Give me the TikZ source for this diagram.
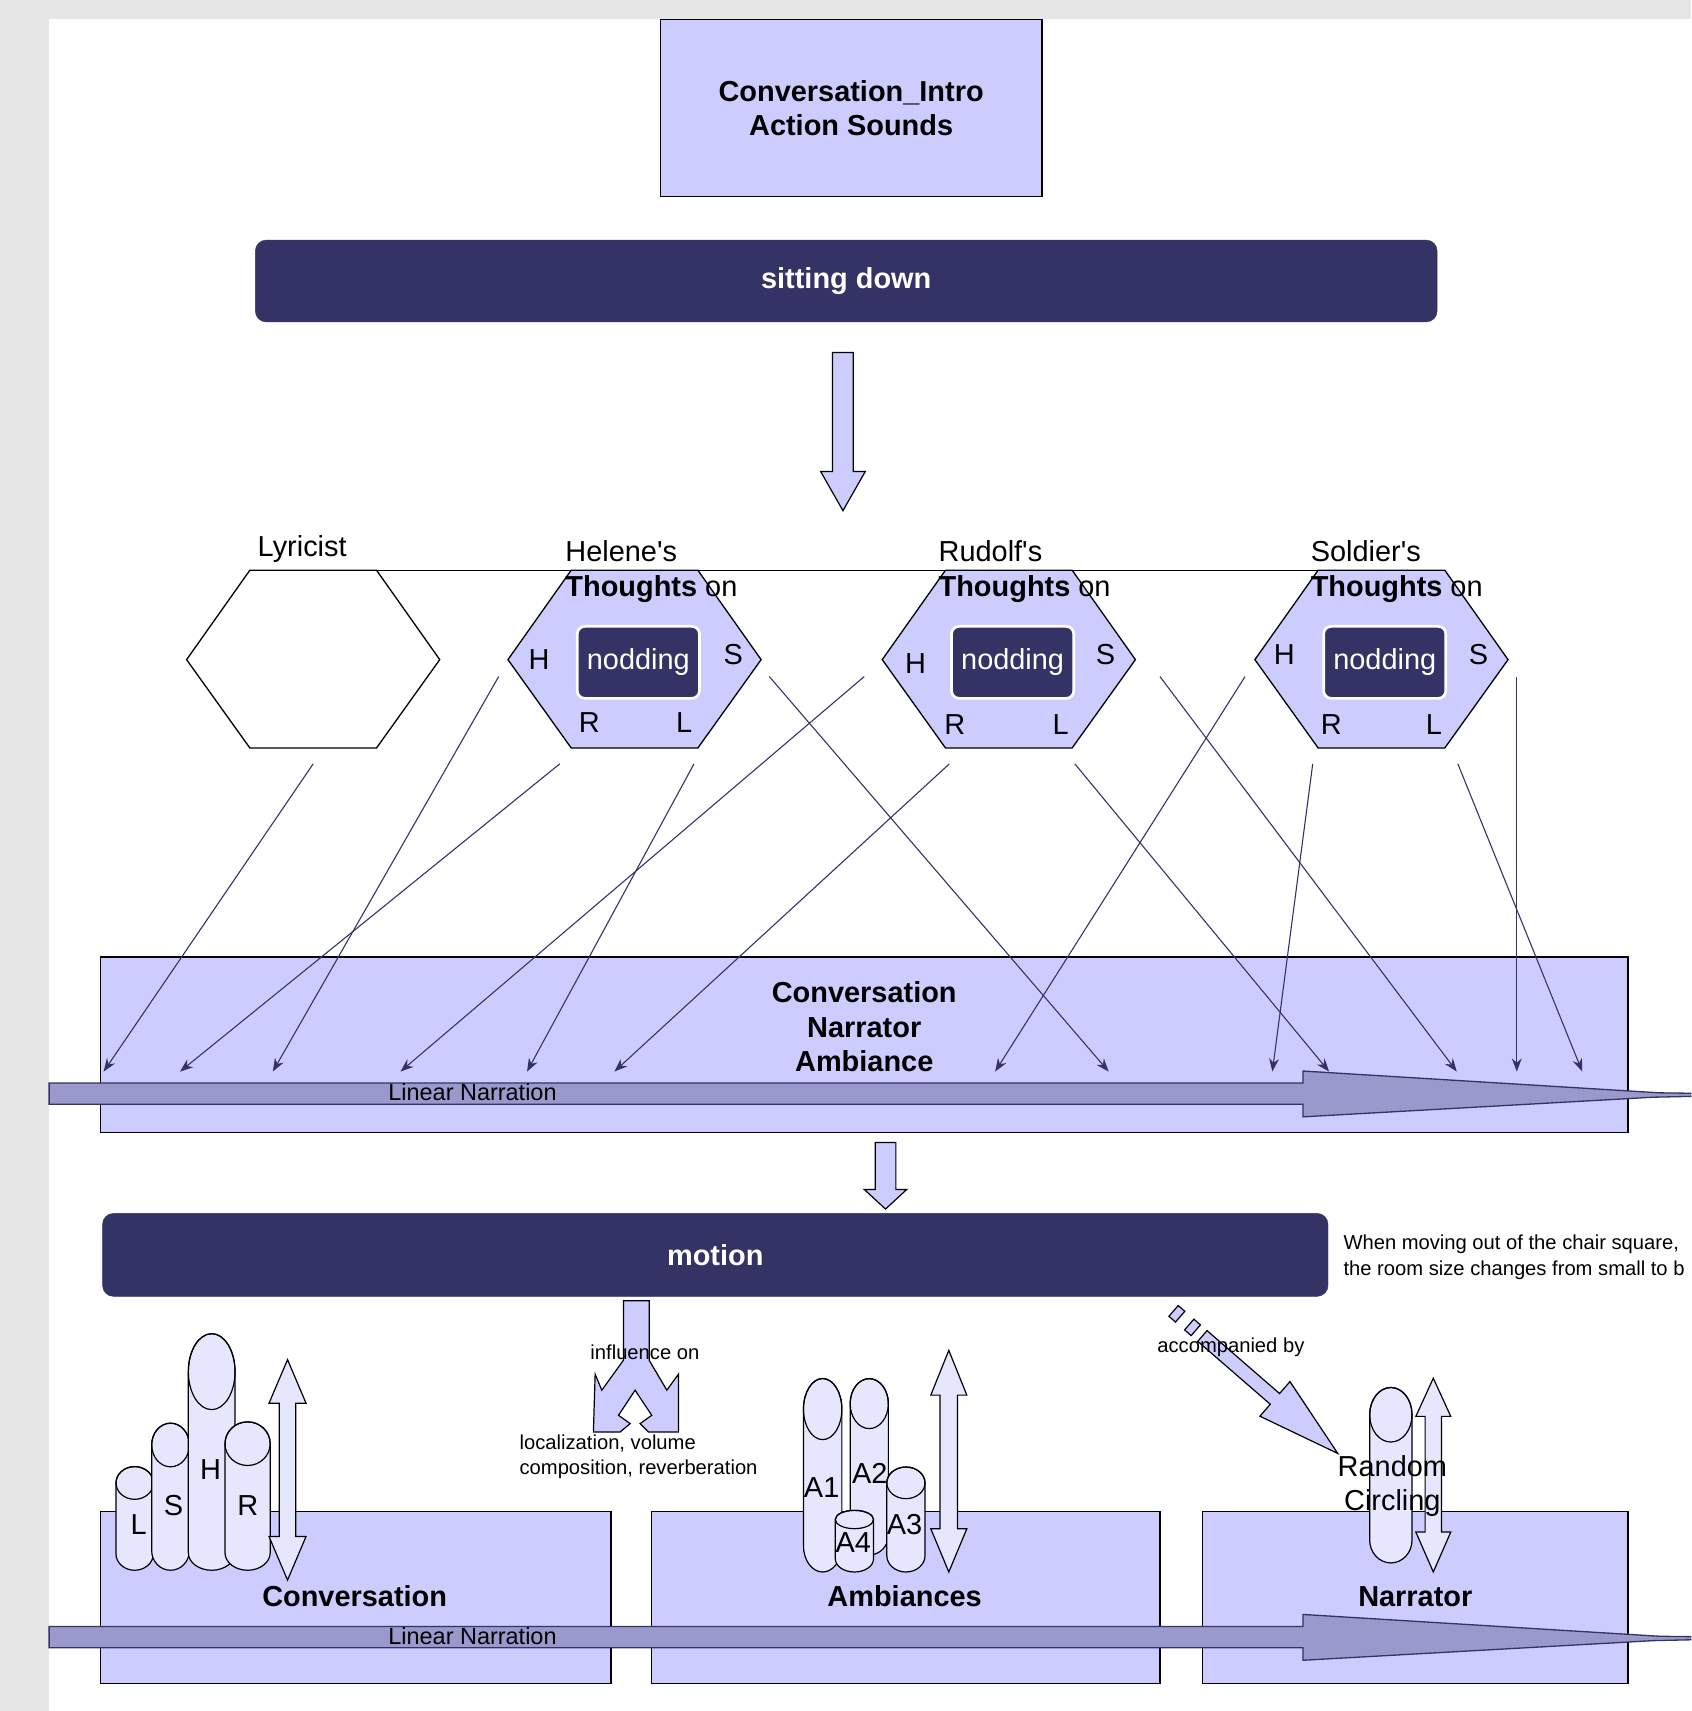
\documentclass[tikz,border=0pt]{standalone}
\usepackage{fontspec}
\setmainfont{Liberation Sans}[Ligatures=TeXOff]
\usetikzlibrary{arrows.meta}
\definecolor{lav}{HTML}{CCCCFF}
\definecolor{navy}{HTML}{333366}
\definecolor{barf}{HTML}{9999CC}
\definecolor{cylf}{HTML}{E6E6FF}
\definecolor{bggray}{HTML}{E6E6E6}
\newcommand\fbig{\fontsize{26.5}{31.5}\selectfont}
\newcommand\fbigb{\fontsize{26.5}{31.5}\selectfont\bfseries}
\newcommand\fsmall{\fontsize{18.5}{24}\selectfont}
\newcommand\fnarr{\fontsize{21.5}{26}\selectfont}
% cylinder: cx, rx, y top centre, ry top, y bottom extreme, ry bottom
\newcommand\mycyl[6]{%
  \filldraw[cylst] ({#1-#2},#3) -- ({#1-#2},{#5-#6})
    arc[start angle=180,end angle=360,x radius=#2pt,y radius=#6pt]
    -- ({#1+#2},#3)
    arc[start angle=0,end angle=180,x radius=#2pt,y radius=#4pt] -- cycle;
  \draw[cylst,fill=none] (#1,#3) ellipse[x radius=#2pt,y radius=#4pt];}
% double block arrow: cx, shaft half, head half, top tip, top base, bottom base, bottom tip
\newcommand\mydbl[7]{%
  \filldraw[cylst] (#1,#4) -- ({#1+#3},#5) -- ({#1+#2},#5) -- ({#1+#2},#6) -- ({#1+#3},#6)
    -- (#1,#7) -- ({#1-#3},#6) -- ({#1-#2},#6) -- ({#1-#2},#5) -- ({#1-#3},#5) -- cycle;}
% hexagon: style, cx, cy
\newcommand\myhex[3]{%
  \draw[#1] ({#2-116},#3) -- ({#2-58},{#3-82}) -- ({#2+58},{#3-82}) -- ({#2+116},#3)
    -- ({#2+58},{#3+81}) -- ({#2-58},{#3+81}) -- cycle;}
\begin{document}
\begin{tikzpicture}[x=1pt,y=-1pt,
  lbox/.style={draw=black,fill=lav,line width=1.2pt,inner sep=0pt,align=center,font=\fbigb},
  dbar/.style={fill=navy,draw=navy,rounded corners=10pt,inner sep=0pt,text=white,font=\fbigb},
  nod/.style={fill=navy,draw=white,line width=2.5pt,rounded corners=7pt,minimum width=112pt,minimum height=66pt,inner sep=0pt,text=white,font=\fbig},
  hexw/.style={draw=black,fill=white,line width=1.2pt},
  hexl/.style={draw=black,fill=lav,line width=1.2pt},
  blk/.style={draw=black,fill=lav,line width=1.1pt,line join=miter},
  cylst/.style={draw=black,fill=cylf,line width=1.1pt},
  thinarr/.style={draw=navy,line width=1pt,-{Stealth[length=12pt,width=9pt]}},
  narr/.style={draw=navy,fill=barf,line width=1.2pt},
  lab/.style={inner sep=0pt,font=\fbig},
  sml/.style={inner sep=0pt,font=\fsmall},
]
\useasboundingbox (0,0) rectangle (1550,1568);
\clip (0,0) rectangle (1550,1568);
\fill[bggray] (0,0) rectangle (1550,1568);
\fill[white] (45,17) rectangle (1560,1580);

% top box and sitting down bar
\node[lbox,minimum width=350pt,minimum height=162pt] (intro) at (780,99) {Conversation\_Intro\\Action Sounds};
\node[dbar,minimum width=1083pt,minimum height=75pt] (sit) at (775.5,257.5) {sitting down};

% block arrow down
\filldraw[blk] (763,323) -- (782,323) -- (782,432) -- (793,432) -- (772.5,468) -- (752,432) -- (763,432) -- cycle;

% hexagons
\myhex{hexw}{287}{604.5}
\myhex{hexl}{581.5}{604.5}
\myhex{hexl}{924.5}{604.5}
\myhex{hexl}{1266}{604.5}
\draw[black,line width=1.2pt] (229,522.5) -- (1324,522.5);

% labels above hexagons
\node[lab,anchor=base west] (lyr) at (236,510) {Lyricist};
\node[lab,anchor=base west] (hel) at (518,515) {Helene's};
\node[lab,anchor=base west] (helt) at (518,547) {\textbf{Thoughts} on};
\node[lab,anchor=base west] (rud) at (860,515) {Rudolf's};
\node[lab,anchor=base west] (rudt) at (860,547) {\textbf{Thoughts} on};
\node[lab,anchor=base west] (sol) at (1201,515) {Soldier's};
\node[lab,anchor=base west] (solt) at (1201,547) {\textbf{Thoughts} on};

% nodding boxes and letters
\node[nod] (n1) at (585,607) {nodding};
\node[nod] (n2) at (928,607) {nodding};
\node[nod] (n3) at (1269,607) {nodding};
\node[lab] (h1H) at (494,604) {H};
\node[lab] (h1S) at (672,600) {S};
\node[lab] (h1R) at (540,662) {R};
\node[lab] (h1L) at (627,662) {L};
\node[lab] (h2H) at (839,608) {H};
\node[lab] (h2S) at (1013,600) {S};
\node[lab] (h2R) at (875,664) {R};
\node[lab] (h2L) at (972,664) {L};
\node[lab] (h3H) at (1177,600) {H};
\node[lab] (h3S) at (1355,600) {S};
\node[lab] (h3R) at (1220,664) {R};
\node[lab] (h3L) at (1314,664) {L};

% middle box
\node[lbox,minimum width=1400pt,minimum height=161pt] (cna) at (792,957.5) {};
\node[inner sep=0pt,align=center,font=\fbigb] (cnat) at (792,941) {Conversation\\Narrator\\Ambiance};

% thin arrows
\coordinate (s1) at (287,700);   \coordinate (e1) at (95,982);
\coordinate (s2) at (457,620);   \coordinate (e2) at (250,982);
\coordinate (s3) at (513,700);   \coordinate (e3) at (165,982);
\coordinate (s4) at (636,700);   \coordinate (e4) at (483,982);
\coordinate (s5) at (705,620);   \coordinate (e5) at (1016,982);
\coordinate (s6) at (792,620);   \coordinate (e6) at (367,982);
\coordinate (s7) at (870,700);   \coordinate (e7) at (563,982);
\coordinate (s8) at (985,700);   \coordinate (e8) at (1218,982);
\coordinate (s9) at (1063,620);  \coordinate (e9) at (1335,982);
\coordinate (s10) at (1141,620); \coordinate (e10) at (912,982);
\coordinate (s11) at (1203,700); \coordinate (e11) at (1166,982);
\coordinate (s12) at (1336,700); \coordinate (e12) at (1450,982);
\coordinate (s13) at (1390,620); \coordinate (e13) at (1390,982);
\foreach \i in {1,...,13} \draw[thinarr] (s\i) -- (e\i);

% linear narration bar 1
\filldraw[narr] (45,992.5) -- (1194,992.5) -- (1194,981.5) -- (1521,1001.5) -- (1560,1002) -- (1560,1004.5)
  -- (1515,1005.5) -- (1194,1023.5) -- (1194,1012) -- (45,1012) -- cycle;
\node[inner sep=0pt,font=\fnarr] (ln1) at (433,1001) {Linear Narration};

% small down arrow
\filldraw[blk] (802,1047) -- (821,1047) -- (821,1090) -- (831,1090) -- (811.5,1108) -- (792,1090) -- (802,1090) -- cycle;

% motion bar
\node[dbar,minimum width=1123pt,minimum height=76pt] (mot) at (655.5,1150) {motion};
\node[sml,anchor=base west] (note1) at (1231,1145) {When moving out of the chair square,};
\node[sml,anchor=base west] (note2) at (1231,1169) {the room size changes from small to b};

% bottom boxes
\node[lbox,minimum width=468pt,minimum height=158pt] (conv) at (326,1464) {};
\node[lbox,minimum width=466pt,minimum height=158pt] (amb) at (830,1464) {};
\node[lbox,minimum width=390pt,minimum height=158pt] (narb) at (1297,1464) {};
\node[inner sep=0pt,font=\fbigb] (convt) at (325,1463) {Conversation};
\node[inner sep=0pt,font=\fbigb] (ambt) at (829,1463) {Ambiances};
\node[inner sep=0pt,font=\fbigb] (nart) at (1297,1463) {Narrator};

% linear narration bar 2
\filldraw[narr] (45,1490.5) -- (1194,1490.5) -- (1194,1479.5) -- (1521,1499.5) -- (1560,1500) -- (1560,1502.5)
  -- (1515,1503.5) -- (1194,1521.5) -- (1194,1510) -- (45,1510) -- cycle;
\node[inner sep=0pt,font=\fnarr] (ln2) at (433,1499) {Linear Narration};

% influence on fork arrow
\filldraw[blk] (571.3,1192) -- (594.9,1192) -- (594.9,1246.6) -- (611.1,1274) -- (621.7,1259.4) -- (621.7,1312.3)
  -- (594.2,1312.3) -- (586.6,1304.6) -- (597.3,1297) -- (582,1274) -- (566.8,1297) -- (577.5,1304.6)
  -- (568.3,1312.3) -- (543.8,1312.3) -- (545.4,1259.4) -- (551.5,1274) -- (571.3,1246.6) -- cycle;
\node[sml] (infl) at (591,1239) {influence on};
\node[sml,anchor=base west] (loc1) at (476,1328) {localization, volume};
\node[sml,anchor=base west] (loc2) at (476,1351) {composition, reverberation};

% accompanied by arrow
\begin{scope}[shift={(1101.9,1224.3)},rotate=-40.95]
  \filldraw[blk] (-35,-6.5) rectangle (-27,6.5);
  \filldraw[blk] (-16,-6.5) rectangle (-8,6.5);
  \filldraw[blk] (0,-6.5) -- (88,-6.5) -- (88,-21) -- (164.3,0) -- (88,21) -- (88,6.5) -- (0,6.5) -- cycle;
\end{scope}
\node[sml] (acc) at (1128,1235) {accompanied by};

% conversation cylinders
\mycyl{123.4}{17.1}{1359}{15}{1439}{15}
\mycyl{156.3}{17.3}{1324.2}{20}{1439}{18}
\mycyl{194}{21.4}{1257}{34.8}{1439}{16}
\mycyl{226.9}{20.7}{1323}{20}{1439}{16}
\node[lab] (cL) at (127,1397) {L};
\node[lab] (cS) at (159,1380) {S};
\node[lab] (cH) at (193,1347) {H};
\node[lab] (cR) at (227,1380) {R};
\mydbl{263.5}{7.6}{17}{1246}{1286}{1408}{1448}

% ambiance cylinders
\mycyl{753.9}{17.6}{1291.3}{28}{1440.6}{24}
\mycyl{796.6}{17.5}{1286.3}{22.9}{1425}{18}
\mycyl{830.2}{17.5}{1358.9}{14.5}{1440.6}{15}
\mycyl{783}{17.5}{1392.5}{8.4}{1440.6}{12}
\node[lab] (a1) at (753,1363) {A1};
\node[lab] (a2) at (797,1350) {A2};
\node[lab] (a3) at (829,1397) {A3};
\node[lab] (a4) at (782,1414) {A4};
\mydbl{869.5}{8}{16.5}{1237.5}{1278.5}{1401}{1440.6}

% narrator cylinder
\mycyl{1274.6}{19.4}{1296.5}{25}{1432.3}{21}
\mydbl{1313.5}{7.5}{16}{1263}{1298}{1404}{1440.6}
\node[lab,align=center] (rc) at (1276,1362) {Random\\Circling};
\end{tikzpicture}
\end{document}
